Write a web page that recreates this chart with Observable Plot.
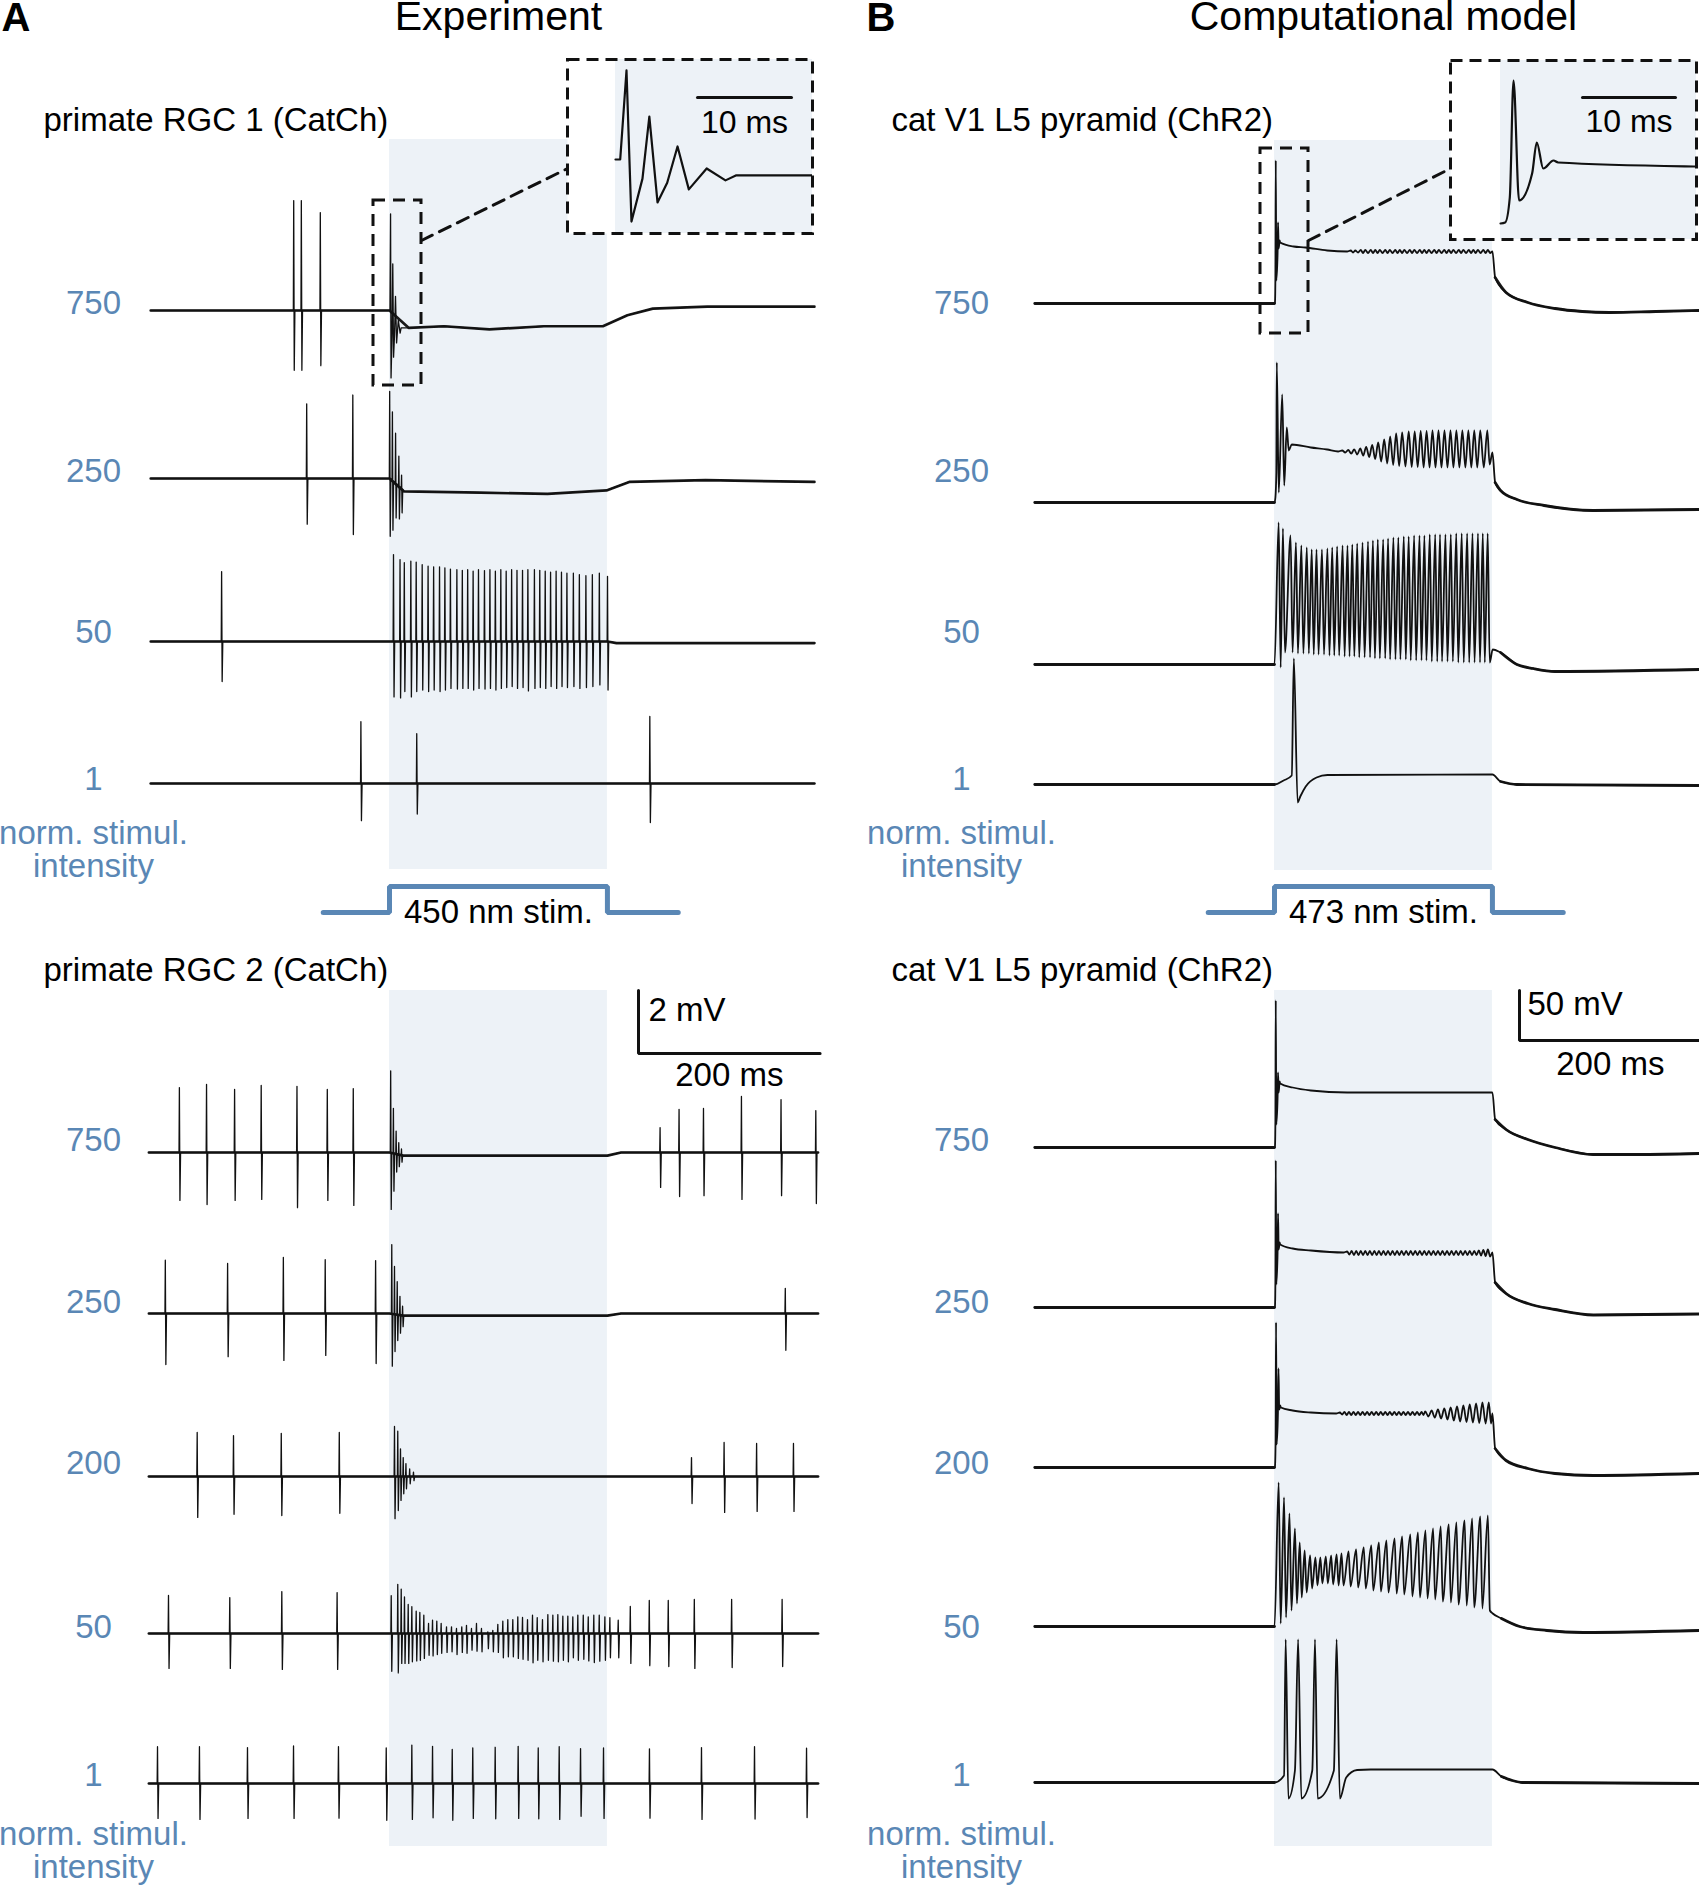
<!DOCTYPE html>
<html>
<head>
<meta charset="utf-8">
<title>Optogenetic stimulation: experiment vs computational model</title>
<script src="https://cdn.jsdelivr.net/npm/d3@7"></script>
<script src="https://cdn.jsdelivr.net/npm/@observablehq/plot@0.6"></script>
<style>
html, body { margin: 0; padding: 0; background: #fff; overflow: hidden; }
#fig { position: relative; width: 1699px; height: 1886px; overflow: hidden; background: #fff; }
#fig > svg { position: absolute; overflow: hidden; }
</style>
</head>
<body>
<div id="fig"></div>
<script>
// =====================================================================
// DATA. Time in ms relative to light onset,
// voltage in mV relative to each trace's own resting level.
// =====================================================================
const stimulus = [0, 240];              // light pulse
const stimTraceExtent = [-73, 318];     // drawn extent of the stimulus trace
const stimLabels = {A: "450 nm stim.", B: "473 nm stim."};
const headers = {A: "Experiment", B: "Computational model"};
const panelLetters = {A: "A", B: "B"};
const panelTitles = {A1: "primate RGC 1 (CatCh)", A2: "primate RGC 2 (CatCh)",
                     B1: "cat V1 L5 pyramid (ChR2)", B2: "cat V1 L5 pyramid (ChR2)"};
const intensitiesTop = ["750", "250", "50", "1"];
const intensitiesBottom = ["750", "250", "200", "50", "1"];
const axisCaption = ["norm. stimul.", "intensity"];
const scaleBarA = {ms: 200, mV: 2};
const scaleBarB = {ms: 200, mV: 50};
const insetBarMs = 10;

// ---------- A, primate RGC 1 (extracellular) : spikes are [t, up, down] ----------
const rgc1_750_base = [[-263,0],[0,0],[21,-0.55],[60,-0.5],[110,-0.6],[170,-0.5],[235,-0.5],[262,-0.15],[290,0.06],[350,0.12],[468,0.12]];
const rgc1_750_onset = [[0.5,0],[1.17,3.07],[1.7,-2.14],[2.87,-0.66],[3.6,1.48],[4.47,-1.48],[5.5,-0.8],[6.6,0.45],[7.8,-1.03],[9.7,-0.31],[11.7,-0.72],[12.8,-0.55]];
const rgc1_750_spikes = [[-105.5,3.49,1.9],[-97.1,3.49,1.9],[-76.2,3.11,1.75]];
const rgc1_250_base = [[-263,0],[0,0],[16,-0.41],[100,-0.45],[174,-0.49],[239,-0.38],[264,-0.11],[288,-0.09],[348,-0.05],[468,-0.11]];
const rgc1_250_spikes = [[-91.2,2.37,1.45],[-40.4,2.65,1.78],[0.2,2.77,1.83],[3.2,2.2,1.56],[6.7,1.61,1.08],[10.3,0.97,1.02],[13.3,0.45,0.75]];
const rgc1_50_base = [[-263,0],[240,0],[250,-0.05],[468,-0.05]];
const rgc1_50_spikes = [[-184.9,2.22,1.27],
  [4.4,2.76,1.76],[11.6,2.6,1.79],[16.3,2.5,1.59],[23.5,2.55,1.76],[29.4,2.52,1.59],[36,2.44,1.54],[42.5,2.39,1.59],[48.6,2.37,1.54],
  [55.1,2.37,1.59],[61,2.34,1.54],[67.1,2.3,1.49],[74.2,2.28,1.51],[80.2,2.26,1.49],[86.1,2.28,1.49],[92.1,2.23,1.54],[98,2.28,1.49],
  [104.6,2.25,1.51],[110.6,2.28,1.49],[116.6,2.23,1.54],[122.6,2.28,1.49],[128.5,2.23,1.46],[134.5,2.28,1.43],[140.4,2.26,1.49],
  [146.5,2.26,1.46],[152.4,2.28,1.57],[159.6,2.28,1.49],[165.5,2.26,1.46],[171.5,2.23,1.49],[177.4,2.2,1.43],[183.5,2.23,1.49],
  [189.4,2.2,1.43],[195.4,2.17,1.46],[202.5,2.17,1.43],[209.1,2.12,1.49],[216.3,2.09,1.46],[223.4,2.12,1.43],[231.1,2.17,1.38],[240.1,2.07,1.54]];
const rgc1_1_base = [[-263,0],[468,0]];
const rgc1_1_spikes = [[-31.5,1.96,1.18],[30,1.58,0.97],[286.7,2.13,1.24]];

// ---------- A, primate RGC 2 (extracellular) ----------
const rgc2_750_base = [[-265,0],[0,0],[15,-0.1],[240,-0.1],[255,0],[472,0]];
const rgc2_750_spikes = [[-231.4,2.06,1.52],[-201.5,2.16,1.65],[-170.6,2.0,1.52],[-141.3,2.13,1.49],[-101.9,2.1,1.75],[-68.5,2.0,1.52],[-39.9,2.03,1.68],
  [1.3,2.6,1.8],[4.3,1.43,1.2],[7.3,0.73,0.57],[10.2,0.38,0.38],[13.2,0.2,0.22],
  [298,0.79,1.11],[318.9,1.37,1.4],[345.8,1.4,1.37],[387.6,1.78,1.49],[431.2,1.68,1.37],[469.5,1.33,1.62]];
const rgc2_250_base = [[-265,0],[0,0],[15,-0.07],[240,-0.07],[255,0],[472,0]];
const rgc2_250_spikes = [[-246.9,1.69,1.62],[-178.3,1.59,1.37],[-116.9,1.78,1.49],[-70.8,1.71,1.33],[-15.3,1.68,1.59],
  [2.5,2.2,1.66],[5.5,1.52,1.18],[8.5,1.05,0.82],[11.5,0.6,0.57],[14.4,0.3,0.35],[435.9,0.8,1.17]];
const rgc2_200_base = [[-265,0],[472,0]];
const rgc2_200_spikes = [[-211.8,1.4,1.3],[-171.8,1.3,1.2],[-119.2,1.37,1.24],[-55.3,1.4,1.17],
  [5.5,1.59,1.34],[9.1,1.44,1.08],[12.1,0.88,0.76],[15.1,0.6,0.55],[18.1,0.41,0.39],[22.2,0.24,0.23],[26.4,0.14,0.13],
  [332.6,0.6,0.86],[368.5,1.08,1.14],[404.3,1.05,1.11],[444.9,1.05,1.11]];
const rgc2_50_base = [[-265,0],[472,0]];
const rgc2_50_spikes = [[-243.4,1.21,1.11],[-175.9,1.14,1.11],[-118.6,1.33,1.14],[-57.7,1.3,1.14],
  [1.9,1.2,1.2],[9.1,1.56,1.25],[12.9,1.41,0.95],[16.5,1.16,0.95],[20.6,0.92,0.95],[24.6,0.85,0.9],[29.4,0.71,0.87],[33.4,0.67,0.85],
  [37.8,0.58,0.79],[43,0.32,0.69],[47.4,0.42,0.71],[52.1,0.39,0.67],[56.9,0.32,0.63],[62.8,0.21,0.6],[68.3,0.21,0.58],[73.8,0.16,0.67],
  [79.6,0.21,0.6],[84.8,0.26,0.63],[90.3,0.16,0.53],[95.8,0.32,0.56],[101.3,0.16,0.58],[108.3,0.05,0.48],[113.8,0.1,0.58],[119.3,0.29,0.6],
  [124.8,0.39,0.77],[130.3,0.44,0.74],[135.8,0.44,0.74],[141.3,0.53,0.79],[146.5,0.51,0.82],[152,0.44,0.85],[157.5,0.58,0.93],[162.7,0.5,0.85],
  [168.5,0.44,0.9],[174.4,0.6,0.85],[179.9,0.58,0.88],[185.4,0.6,0.9],[190.9,0.55,0.85],[196.4,0.55,0.9],[201.9,0.53,0.77],[207.4,0.58,0.85],
  [213.4,0.58,0.82],[218.9,0.53,0.87],[225,0.58,0.92],[231,0.58,0.88],[237.2,0.53,0.85],[242.7,0.5,0.77],[251.9,0.42,0.77],
  [265.2,0.86,0.95],[286.1,1.05,1.02],[307,1.05,1.05],[335.7,1.08,1.11],[376.8,1.08,1.08],[432.4,1.08,1.05]];
const rgc2_1_base = [[-265,0],[472,0]];
const rgc2_1_spikes = [[-255.5,1.17,1.11],[-209.3,1.17,1.14],[-156.4,1.14,1.11],[-105.7,1.19,1.11],[-56.2,1.17,1.1],[-3.6,1.13,1.17],
  [24.6,1.22,1.14],[47.4,1.18,1.09],[69.1,1.08,1.17],[91.7,1.13,1.11],[116.4,1.15,1.12],[141.7,1.18,1.11],[163.8,1.13,1.12],
  [186.9,1.17,1.14],[210.4,1.11,1.04],[235.7,1.13,1.11],[286.3,1.1,1.1],[343.6,1.14,1.14],[402,1.17,1.13],[459.3,1.12,1.08]];

// ---------- B, model (membrane potential): waypoints [t, v], spikes/oscillations [t, peak, trough] ----------
const m750a_wave = [[-264,0],[0,0],[0.5,1],[1.0,26],[1.4,143],[2.0,23],[3.4,50],[3.9,81],[4.6,55],[5.7,63],[6.2,61],[21,57],[34,56],[58,53],[80,52],
  [240,52],[243,26],[255,11],[279,1],[309,-5],[339,-8],[369,-9],[420,-8],[468,-7]];
const m750a_osc = [[84,53,51],[89,53,51],[95,53.5,50.5],[100,53.5,50.5],[106,53.5,50.5],[111,53.5,50.5],[116,53.5,50.5],[122,53.5,50.5],
  [127,53.5,50.5],[133,53.5,50.5],[138,53.5,50.5],[143,53.5,50.5],[149,53.5,50.5],[154,53.5,50.5],[160,53.5,50.5],[165,53.5,50.5],
  [170,53.5,50.5],[176,53.5,50.5],[181,53.5,50.5],[187,53.5,50.5],[192,53.5,50.5],[197,53.5,50.5],[203,53.5,50.5],[208,53.5,50.5],
  [214,53.5,50.5],[219,53.5,50.5],[224,53.5,50.5],[230,53.5,50.5],[235,53.5,50.5]];
const m250a_wave = [[-264,0],[0,0],[1.0,5],[2.0,30],[19,58],[40,55],[58,53],[70,51],[240,50],[243,20],[249,12],[267,3],[297,-3],[351,-8],[468,-7]];
const m250a_spikes = [[2.5,140,10],[8.5,108,17],[13.5,75,52]];
const m250a_osc = [[74.6,52,50],[81.2,52.5,49],[87.8,53,48],[94.4,54,47],[101,55.5,45.5],[107.6,57.5,43.5],[114.2,60,41],[120.8,63,39],
  [127.4,66,37.5],[134,69,36.5],[140.6,70,36],[147.8,71,35.5],[154.4,71,35.5],[161,71.5,35],[167.5,71.5,35],[174,72,35],[180.6,72,35],
  [187.2,72,35],[193.8,72,35],[200.3,72,35],[206.9,72,35],[213.5,72,35],[220,72,35],[226.6,72,35],[234.4,72,38]];
const m50a_wave = [[-264,0],[0,0],[240.3,15],[249,12],[267,0],[285,-4],[309,-7],[468,-5]];
const m50a_spikes = [[4.6,142,-3],[9.3,136,12],[17.7,129,12],[23.6,122,11],[29.6,119,11],[35.6,117,11],[41,115,10],[46.3,115,10],
  [52.3,115,10],[58.3,116,9],[63.6,117,9],[69,118,9],[75,119,8],[80.4,119,8],[85.7,120,8],[91.1,121,7],[97,122,7],[103,123,7],
  [108.4,124,6],[113.8,125,6],[119.7,125,6],[125.1,126,5],[131,127,5],[136.4,127,5],[142.4,128,5],[147.8,128,4],[153.8,129,4],
  [159.7,129,4],[165.1,129,4],[171,130,3],[177,130,3],[182.3,130,3],[188.3,130,3],[194.2,130,3],[200.2,131,2],[206.2,131,2],
  [212.2,131,2],[218.1,131,2],[224.1,131,2],[229.4,131,2],[234.8,131,2]];
const m1a_wave = [[-264,0],[0,0],[10,4],[19,9],[21.3,126],[25.5,-18],[28.4,-12],[34.4,-2],[46.3,7],[58.3,9.5],[240,10],[249,3],[267,0],[468,-1]];

const m750b_wave = [[-264,0],[0,0],[0.5,1],[1.0,26],[1.4,147],[2.0,23],[3.4,50],[3.9,75],[4.6,55],[5.7,66],[6.2,64],[20,60],[40,57],[80,55],
  [240,55],[243,28],[255,18],[279,8],[309,0],[351,-7],[400,-7],[468,-6]];
const m250b_wave = [[-264,0],[0,0],[0.5,1],[1.0,26],[1.4,147],[2.0,23],[3.4,55],[3.9,94],[4.6,58],[5.7,65],[6.2,63],[20,59],[40,57],[76,55],
  [240,55],[243,25],[255,14],[279,4],[309,-2],[351,-7.5],[468,-6.5]];
const m250b_osc = [[80,56,53],[85,56.5,52.5],[90,56.5,52.5],[95,56.5,52.5],[100,56.5,52.5],[105,56.5,52.5],[110,56.5,52.5],[115,56.5,52.5],
  [120,56.5,52.5],[125,56.5,52.5],[130,56.5,52.5],[135,56.5,52.5],[140,56.5,52.5],[145,56.5,52.5],[150,56.5,52.5],[155,56.5,52.5],
  [160,56.5,52.5],[165,56.5,52.5],[170,56.5,52.5],[175,56.5,52.5],[180,56.5,52.5],[185,56.5,52.5],[190,56.5,52.5],[195,56.5,52.5],
  [200,56.5,52.5],[205,56.5,52.5],[210,56.5,52.5],[215,56.5,52.5],[220,56.5,52.5],[225,57,52],[230,57.5,51.5],[235,58,51]];
const m200b_wave = [[-264,0],[0,0],[0.5,1],[1.2,26],[1.7,145],[2.4,23],[3.8,55],[4.4,99],[5.2,58],[6.3,62],[7,60],[20,57],[40,55],[68,54],
  [240,54],[243,19],[255,7],[279,-1],[309,-6],[351,-8],[468,-6]];
const m200b_osc = [[72,55,53],[77,55.5,52.5],[82,55.5,52.5],[87,55.5,52.5],[92,55.5,52.5],[97,55.5,52.5],[102,55.5,52.5],[107,55.5,52.5],
  [112,55.5,52.5],[117,55.5,52.5],[122,55.5,52.5],[127,55.5,52.5],[132,55.5,52.5],[137,55.5,52.5],[142,55.5,52.5],[147,55.5,52.5],
  [152,55.5,52.5],[157,55.5,52.5],[162,55.5,52.5],
  [166,56,51],[173,57,50],[180,58,49],[187,59,48],[194,60,47],[201,61,46],[208,62,45.5],[215,63,45],[222,64,44.5],[229,65,44],[236,65,44]];
const m50b_wave = [[-264,0],[0,0],[240.3,13],[250,8],[270,0],[300,-4],[340,-6],[468,-4]];
const m50b_spikes = [[4.6,144,3],[10.5,129,9],[16.5,113,16],[22.5,98,23],[27.8,84,29],[33.2,76,34],[39.2,71,38],[45.1,69,41],
  [50.5,69,43],[56.5,70,43],[62.4,71,42],[68.4,72,41],[73.8,73,41],[81.6,75,40],[89.9,77,39],[98.3,79,38],[106.6,81,36],[115,84,35],
  [123.3,86,34],[132.3,88,33],[140.6,90,32],[149.6,92,30],[158,94,29],[166.3,96,28],[174.7,98,27],[183.1,100,25],[192,102,24],
  [200.4,104,22],[209.4,106,21],[217.7,108,19],[226.7,110,18],[235,111,16]];
const m1b_wave = [[-264,0],[0,0],[10.5,7],[12.3,143],[15.3,-16],[22.5,12],[26,143],[29.6,-16],[41.6,12],[44.6,143],[47.5,-16],
  [65.4,12],[68.4,143],[72,-16],[79,5],[91,12.5],[106,13],[240,13],[250,6],[262,2],[273,0],[468,-1]];

// =====================================================================
// TRACE ASSEMBLY (turns the read values into polylines)
// =====================================================================
function interp(pts, t) {
  if (t <= pts[0][0]) return pts[0][1];
  for (let i = 1; i < pts.length; i++) if (t <= pts[i][0]) {
    const [t0, v0] = pts[i - 1], [t1, v1] = pts[i];
    return v0 + (v1 - v0) * (t - t0) / (t1 - t0);
  }
  return pts[pts.length - 1][1];
}
function exTrace(base, spikes, wave = []) {
  const busy = spikes.map(([t]) => [t - 0.4, t + 1.3]);
  if (wave.length) busy.push([wave[0][0], wave[wave.length - 1][0]]);
  const inBusy = t => busy.some(([a, b]) => t >= a && t <= b);
  const out = base.filter(p => !inBusy(p[0])).map(([t, v]) => ({t, v}));
  for (const [t, up, down] of spikes) {
    const b = interp(base, t);
    out.push({t: t - 0.4, v: b}, {t, v: b + up}, {t: t + 0.6, v: b - down}, {t: t + 1.3, v: b});
  }
  for (const [t, v] of wave) out.push({t, v});
  return out.sort((a, b) => a.t - b.t);
}
function modelTrace(wave, spikes = [], osc = []) {
  const out = wave.map(([t, v]) => ({t, v}));
  const add = (list, sym) => list.forEach(([t, pk, tr], i) => {
    const next = i < list.length - 1 ? list[i + 1][0] : t + 5;
    const d = sym ? (next - t) / 2 : Math.min(2.2, (next - t) / 2);
    out.push({t, v: pk}, {t: t + d, v: tr});
  });
  add(spikes, false); add(osc, true);
  return out.sort((a, b) => a.t - b.t);
}
// heavier underlay: the noisy baseline of a recording, or the resting stretches of a model trace
const baseSegs = base => [base.map(([t, v]) => ({t, v}))];
const restSegs = pts => [pts.filter(p => p.t <= stimulus[0]), pts.filter(p => p.t >= stimulus[1] + 3)];

const A_top = [exTrace(rgc1_750_base, rgc1_750_spikes, rgc1_750_onset), exTrace(rgc1_250_base, rgc1_250_spikes),
               exTrace(rgc1_50_base, rgc1_50_spikes), exTrace(rgc1_1_base, rgc1_1_spikes)];
const A_topBase = [rgc1_750_base, rgc1_250_base, rgc1_50_base, rgc1_1_base].map(baseSegs);
const A_bottom = [exTrace(rgc2_750_base, rgc2_750_spikes), exTrace(rgc2_250_base, rgc2_250_spikes), exTrace(rgc2_200_base, rgc2_200_spikes),
                  exTrace(rgc2_50_base, rgc2_50_spikes), exTrace(rgc2_1_base, rgc2_1_spikes)];
const A_bottomBase = [rgc2_750_base, rgc2_250_base, rgc2_200_base, rgc2_50_base, rgc2_1_base].map(baseSegs);
const B_top = [modelTrace(m750a_wave, [], m750a_osc), modelTrace(m250a_wave, m250a_spikes, m250a_osc),
               modelTrace(m50a_wave, m50a_spikes), modelTrace(m1a_wave)];
const B_bottom = [modelTrace(m750b_wave), modelTrace(m250b_wave, [], m250b_osc), modelTrace(m200b_wave, [], m200b_osc),
                  modelTrace(m50b_wave, m50b_spikes), modelTrace(m1b_wave)];

// =====================================================================
// LAYOUT (pixels on the 1699 x 1886 page) and STYLE
// =====================================================================
const FIG_H = 1886;
const pxPerMs = 0.908;
const FONT = "Liberation Sans, Arial, Helvetica, sans-serif";
const BLUE = "#5a87b5", SHADE = "#edf2f7", INK = "#111";
const L = {
  A: {left: 0, width: 850, onset: 389, k: 31.5, labelX: 93, titleX: 43, letterX: 1,
      rowsTop: [310, 478, 641, 783], rowsBottom: [1152, 1313, 1476, 1633, 1783],
      shadeTop: [139, 869], shadeBottom: [990, 1846],
      zoomBox: [373, 421, 200, 385], connector: [[421, 240], [567, 168]],
      bar: {x: 638, y: 1053, mVlabel: [648, 1020], msLabelY: 1085}, stroke: 1.3, baseStroke: 2.7, curve: "linear"},
  B: {left: 850, width: 849, onset: 1274, k: 1, labelX: 961, titleX: 891, letterX: 866,
      rowsTop: [303, 502, 664, 784], rowsBottom: [1147, 1307, 1467, 1626, 1782],
      shadeTop: [140, 870], shadeBottom: [990, 1846],
      zoomBox: [1260, 1308, 148, 333], connector: [[1308, 240], [1450, 168]],
      bar: {x: 1519, y: 1040, mVlabel: [1527, 1014], msLabelY: 1074}, stroke: 1.8, baseStroke: 2.8, curve: "monotone-x"}
};
const common = {letterY: 30, headerY: 29, titleY: [130, 980],
  labelYTop: [313, 481, 642, 789], labelYBottom: [1150, 1312, 1473, 1637, 1785],
  captionY: [876, 1877], stimY: {low: 912, high: 886, text: 922}};
const insets = {
  A: {box: [567, 812, 59, 233], onset: 615, basePx: 159, pxMs: 9.4, k: 29, bar: [697, 97], labelY: 132, curve: "linear", stroke: 2.2},
  B: {box: [1450, 1696, 60, 239], onset: 1500, basePx: 223, pxMs: 9.3, k: 1, bar: [1582, 97], labelY: 131, curve: "monotone-x", stroke: 2.2}
};

const fig = document.getElementById("fig");
function place(svg, left, top) {
  svg.style.position = "absolute"; svg.style.left = left + "px"; svg.style.top = top + "px";
  fig.appendChild(svg);
}

function columnPlot(key, topTraces, bottomTraces, topBase, bottomBase) {
  const c = L[key];
  const Y = px => -px / c.k;
  const T = px => (px - c.onset) / pxPerMs;
  const stack = (sets, rows, tag) => sets.flatMap((pts, i) => pts.map(p => ({id: tag + i, t: p.t, y: Y(rows[i]) + p.v})));
  const stackSegs = (sets, rows, tag) => sets.flatMap((segs, i) => segs.flatMap((pts, j) => pts.map(p => ({id: tag + i + "_" + j, t: p.t, y: Y(rows[i]) + p.v}))));
  const lines = [...stack(topTraces, c.rowsTop, "t"), ...stack(bottomTraces, c.rowsBottom, "b")];
  const bases = [...stackSegs(topBase, c.rowsTop, "t"), ...stackSegs(bottomBase, c.rowsBottom, "b")];
  const shade = [c.shadeTop, c.shadeBottom].map(([a, b]) => ({x1: stimulus[0], x2: stimulus[1], y1: Y(b), y2: Y(a)}));
  const labels = [
    ...intensitiesTop.map((s, i) => ({x: T(c.labelX), y: Y(common.labelYTop[i]), text: s})),
    ...intensitiesBottom.map((s, i) => ({x: T(c.labelX), y: Y(common.labelYBottom[i]), text: s})),
    ...common.captionY.map(y => ({x: T(c.labelX), y: Y(y), text: axisCaption.join("\n")}))
  ];
  const titles = [{x: T(c.titleX), y: Y(common.titleY[0]), text: panelTitles[key + "1"]},
                  {x: T(c.titleX), y: Y(common.titleY[1]), text: panelTitles[key + "2"]}];
  const sy = common.stimY;
  const stimPath = [[stimTraceExtent[0], Y(sy.low)], [stimulus[0], Y(sy.low)], [stimulus[0], Y(sy.high)],
                    [stimulus[1], Y(sy.high)], [stimulus[1], Y(sy.low)], [stimTraceExtent[1], Y(sy.low)]];
  const sb = key === "A" ? scaleBarA : scaleBarB;
  const bx = T(c.bar.x), by = Y(c.bar.y);
  const barPath = [[bx, by + sb.mV], [bx, by], [bx + sb.ms, by]];
  const [zx1, zx2, zy1, zy2] = c.zoomBox;
  const mid = (stimulus[0] + stimulus[1]) / 2;
  const txt = {x: "x", y: "y", text: "text", fontFamily: FONT, lineAnchor: "bottom"};
  return Plot.plot({
    width: c.width, height: FIG_H, margin: 0,
    x: {domain: [T(c.left), T(c.left + c.width)], range: [0, c.width], axis: null},
    y: {domain: [-FIG_H / c.k, 0], range: [FIG_H, 0], axis: null},
    style: {background: "transparent", fontFamily: FONT, overflow: "hidden"},
    marks: [
      Plot.rect(shade, {x1: "x1", x2: "x2", y1: "y1", y2: "y2", fill: SHADE}),
      Plot.line(bases, {x: "t", y: "y", z: "id", stroke: "#1a1a1a", strokeWidth: c.baseStroke, curve: c.curve}),
      Plot.line(lines, {x: "t", y: "y", z: "id", stroke: INK, strokeWidth: c.stroke, curve: c.curve, strokeLinejoin: "round"}),
      Plot.text(labels, {...txt, fill: BLUE, fontSize: 33, lineHeight: 1, textAnchor: "middle"}),
      Plot.text(titles, {...txt, fill: "#000", fontSize: 33, textAnchor: "start"}),
      Plot.text([{x: T(c.letterX), y: Y(common.letterY), text: panelLetters[key]}], {...txt, fill: "#000", fontSize: 40, fontWeight: "bold", textAnchor: "start"}),
      Plot.text([{x: mid, y: Y(common.headerY), text: headers[key]}], {...txt, fill: "#000", fontSize: 41, textAnchor: "middle"}),
      Plot.line(stimPath, {x: d => d[0], y: d => d[1], stroke: BLUE, strokeWidth: 5, strokeLinejoin: "miter"}),
      Plot.text([{x: mid, y: Y(sy.text), text: stimLabels[key]}], {...txt, fill: "#000", fontSize: 33, textAnchor: "middle"}),
      Plot.line(barPath, {x: d => d[0], y: d => d[1], stroke: INK, strokeWidth: 3, strokeLinejoin: "miter"}),
      Plot.text([{x: T(c.bar.mVlabel[0]), y: Y(c.bar.mVlabel[1]), text: `${sb.mV} mV`}], {...txt, fill: "#000", fontSize: 33, textAnchor: "start"}),
      Plot.text([{x: bx + sb.ms / 2, y: Y(c.bar.msLabelY), text: `${sb.ms} ms`}], {...txt, fill: "#000", fontSize: 33, textAnchor: "middle"}),
      Plot.rect([{x1: T(zx1), x2: T(zx2), y1: Y(zy2), y2: Y(zy1)}], {x1: "x1", x2: "x2", y1: "y1", y2: "y2", fill: "none", stroke: INK, strokeWidth: 3, strokeDasharray: "12,8"}),
      Plot.line(c.connector.map(([px, py]) => [T(px), Y(py)]), {x: d => d[0], y: d => d[1], stroke: INK, strokeWidth: 3, strokeDasharray: "12,8"})
    ]
  });
}

function insetPlot(key, pts) {
  const s = insets[key];
  const [x1, x2, y1, y2] = s.box;
  const m = 3;
  const T = px => (px - s.onset) / s.pxMs;
  const V = px => (s.basePx - px) / s.k;
  const xd = [T(x1), T(x2)], yd = [V(y2), V(y1)];
  const win = pts.filter(p => p.t > xd[0] - 6 && p.t < xd[1] + 30);
  const bx = T(s.bar[0]), byv = V(s.bar[1]);
  const svg = Plot.plot({
    width: x2 - x1 + 2 * m, height: y2 - y1 + 2 * m, margin: m,
    x: {domain: xd, axis: null}, y: {domain: yd, axis: null},
    style: {background: "transparent", fontFamily: FONT, overflow: "hidden"},
    marks: [
      Plot.frame({fill: "white", stroke: "none"}),
      Plot.rect([{x1: stimulus[0], x2: Math.min(stimulus[1], xd[1]), y1: yd[0], y2: yd[1]}], {x1: "x1", x2: "x2", y1: "y1", y2: "y2", fill: SHADE}),
      Plot.line(win, {x: "t", y: "v", stroke: INK, strokeWidth: s.stroke, curve: s.curve, clip: true, strokeLinejoin: "round"}),
      Plot.line([[bx, byv], [bx + insetBarMs, byv]], {x: d => d[0], y: d => d[1], stroke: INK, strokeWidth: 3}),
      Plot.text([{x: bx + insetBarMs / 2, y: V(s.labelY), text: `${insetBarMs} ms`}], {x: "x", y: "y", text: "text", fontFamily: FONT, fontSize: 32, fill: "#000", textAnchor: "middle", lineAnchor: "bottom"}),
      Plot.frame({stroke: INK, strokeWidth: 3, strokeDasharray: "12,7"})
    ]
  });
  place(svg, x1 - m, y1 - m);
}

place(columnPlot("A", A_top, A_bottom, A_topBase, A_bottomBase), L.A.left, 0);
place(columnPlot("B", B_top, B_bottom, B_top.map(restSegs), B_bottom.map(restSegs)), L.B.left, 0);
insetPlot("A", A_top[0]);
insetPlot("B", B_top[0]);
</script>
</body>
</html>
